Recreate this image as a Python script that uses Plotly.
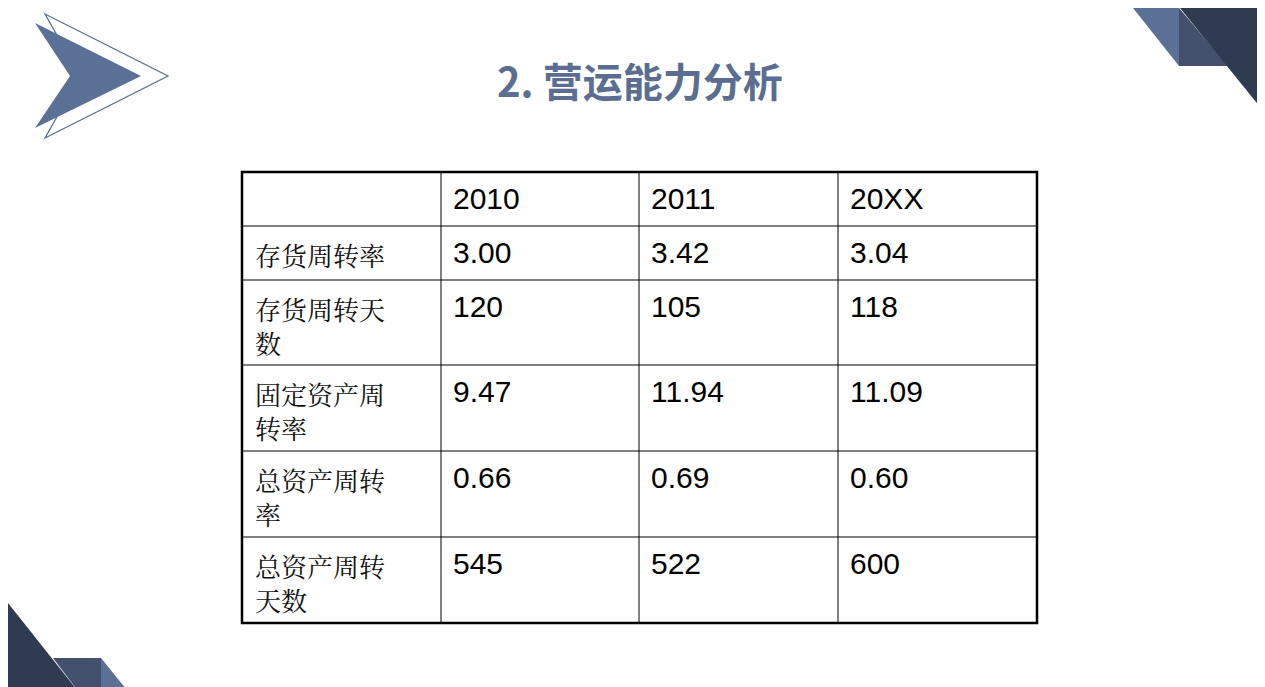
import plotly.graph_objects as go

# data
years = ['2010', '2011', '20XX']
row_labels = ['存货周转率', '存货周转天<br>数', '固定资产周<br>转率', '总资产周转<br>率', '总资产周转<br>天数']
v2010 = ['3.00', '120', '9.47', '0.66', '545']
v2011 = ['3.42', '105', '11.94', '0.69', '522']
v20xx = ['3.04', '118', '11.09', '0.60', '600']

W, H = 1265, 687
col_x = [234, 433, 631, 830, 1029]
row_y = [164, 218, 272, 357, 443, 529, 615]

fig = go.Figure()
shapes = []

# corner decorations
def poly(pts, color, line=None):
    p = 'M ' + ' L '.join(f'{x},{y}' for x, y in pts) + ' Z'
    d = dict(type='path', path=p, fillcolor=color, layer='below',
             line=dict(width=0) if line is None else line)
    shapes.append(d)

poly([(37, 6), (160, 68), (37, 130), (72, 68)], 'rgba(0,0,0,0)', dict(color='#5b7097', width=1.3))
poly([(27, 15), (133, 68), (27, 120), (62, 68)], '#5b7097')
poly([(1125, 0), (1171, 0), (1171, 58)], '#5b7097')
poly([(1171, 0), (1220, 58), (1171, 58)], '#44516e')
poly([(1172, 0), (1265, 0), (1265, 115)], '#2f3b50')
poly([(45, 650), (93, 650), (93, 687), (73, 687)], '#44516e')
poly([(93, 650), (123, 687), (93, 687)], '#5b7097')
poly([(0, 595), (73, 687), (0, 687)], '#2f3b50')

# table grid
for x in col_x[1:-1]:
    shapes.append(dict(type='line', x0=x, x1=x, y0=row_y[0], y1=row_y[-1], line=dict(color='black', width=1)))
for y in row_y[1:-1]:
    shapes.append(dict(type='line', x0=col_x[0], x1=col_x[-1], y0=y, y1=y, line=dict(color='black', width=1)))
shapes.append(dict(type='rect', x0=col_x[0], x1=col_x[-1], y0=row_y[0], y1=row_y[-1],
                   line=dict(color='black', width=2.5)))

num_font = dict(family='Liberation Sans, Arial', size=30, color='black')
cjk_font = dict(family='Noto Serif CJK SC, Noto Sans CJK SC', size=26, color='#111')

anns = []
for i, yr in enumerate(years):
    anns.append(dict(x=col_x[i + 1] + 10, y=row_y[0] + 8, text=yr, font=num_font))
for r, lab in enumerate(row_labels):
    top = row_y[r + 1] + 8
    anns.append(dict(x=col_x[0] + 11, y=top, text=lab, font=cjk_font, align='left'))
    for c, vals in enumerate([v2010, v2011, v20xx]):
        anns.append(dict(x=col_x[c + 1] + 10, y=top, text=vals[r], font=num_font))
for a in anns:
    a.update(xref='x', yref='y', xanchor='left', yanchor='top', showarrow=False)

anns.append(dict(x=632, y=72, xref='x', yref='y', text='<b>2. 营运能力分析</b>', showarrow=False,
                 font=dict(family='Noto Sans CJK SC', size=40, color='#5b6e91')))

fig.update_layout(
    width=W, height=H, margin=dict(l=0, r=0, t=0, b=0),
    plot_bgcolor='white', paper_bgcolor='white',
    xaxis=dict(range=[0, W], visible=False, fixedrange=True),
    yaxis=dict(range=[H, 0], visible=False, fixedrange=True),
    shapes=shapes, annotations=anns, showlegend=False,
)
fig.write_html('out.html')
